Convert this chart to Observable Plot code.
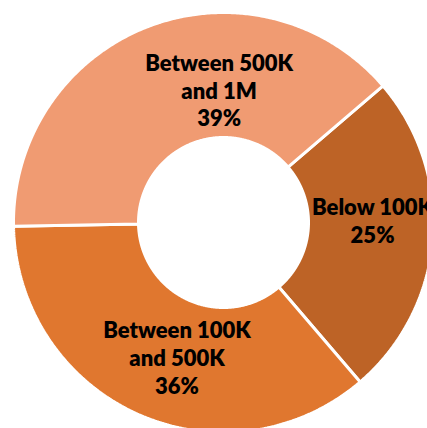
<!DOCTYPE html>
<html><head><meta charset="utf-8">
<script src="https://cdn.jsdelivr.net/npm/d3@7"></script>
<script src="https://cdn.jsdelivr.net/npm/@observablehq/plot@0.6"></script>
<style>html,body{margin:0;padding:0;background:#fff;overflow:hidden}</style>
</head><body><div id="chart"></div>
<script>
// Data
const categories = ["Below 100K", "Between 100K and 500K", "Between 500K and 1M"];
const labelLines = ["Below 100K", "Between 100K\nand 500K", "Between 500K\nand 1M"];
const shares = [25, 36, 39];

// Layout
const W = 427, H = 428;
const cx = 223, cy = 222, R = 210, r0 = 85;
const startAngle = 49.4 * Math.PI / 180;
const total = d3.sum(shares);

let acc = startAngle;
const slices = categories.map((c, i) => {
  const a0 = acc, a1 = acc + shares[i] / total * 2 * Math.PI;
  acc = a1;
  return {cat: c, a0, a1, i};
});

const pts = [];
for (const s of slices) {
  const n = Math.ceil((s.a1 - s.a0) * 120);
  for (let k = 0; k <= n; k++) {
    const a = s.a0 + (s.a1 - s.a0) * k / n;
    pts.push({cat: s.cat, x: R * Math.sin(a), y: R * Math.cos(a)});
  }
  for (let k = n; k >= 0; k--) {
    const a = s.a0 + (s.a1 - s.a0) * k / n;
    pts.push({cat: s.cat, x: r0 * Math.sin(a), y: r0 * Math.cos(a)});
  }
}

const rm = (R + r0) / 2;
const labels = slices.map(s => {
  const m = (s.a0 + s.a1) / 2;
  return {x: rm * Math.sin(m), y: rm * Math.cos(m),
          text: labelLines[s.i] + "\n" + Math.round(shares[s.i] / total * 100) + "%"};
});

const nudges = [[2, -14], [14, 0], [48, 5]];
const textOpts = {x: "x", y: "y", text: "text", fill: "#000", fontSize: 22,
  fontWeight: 800, fontFamily: "Lato, 'Open Sans', sans-serif", lineHeight: 1.27};

const chart = Plot.plot({
  width: W, height: H,
  marginTop: 0, marginRight: 0, marginBottom: 0, marginLeft: 0,
  x: {domain: [-cx, W - cx], range: [0, W], axis: null},
  y: {domain: [-(H - cy), cy], range: [H, 0], axis: null},
  color: {domain: categories, range: ["#BD6326", "#E0772F", "#F09B72"]},
  style: {background: "#fff", overflow: "hidden"},
  marks: [
    Plot.line(pts, {x: "x", y: "y", z: "cat", fill: "cat", stroke: "#fff",
      strokeWidth: 3, curve: "linear-closed", strokeLinejoin: "miter"}),
    ...labels.map((l, i) => Plot.text([l], {...textOpts, dx: nudges[i][0], dy: nudges[i][1]}))
  ]
});
document.getElementById("chart").appendChild(chart);
</script>
</body></html>
